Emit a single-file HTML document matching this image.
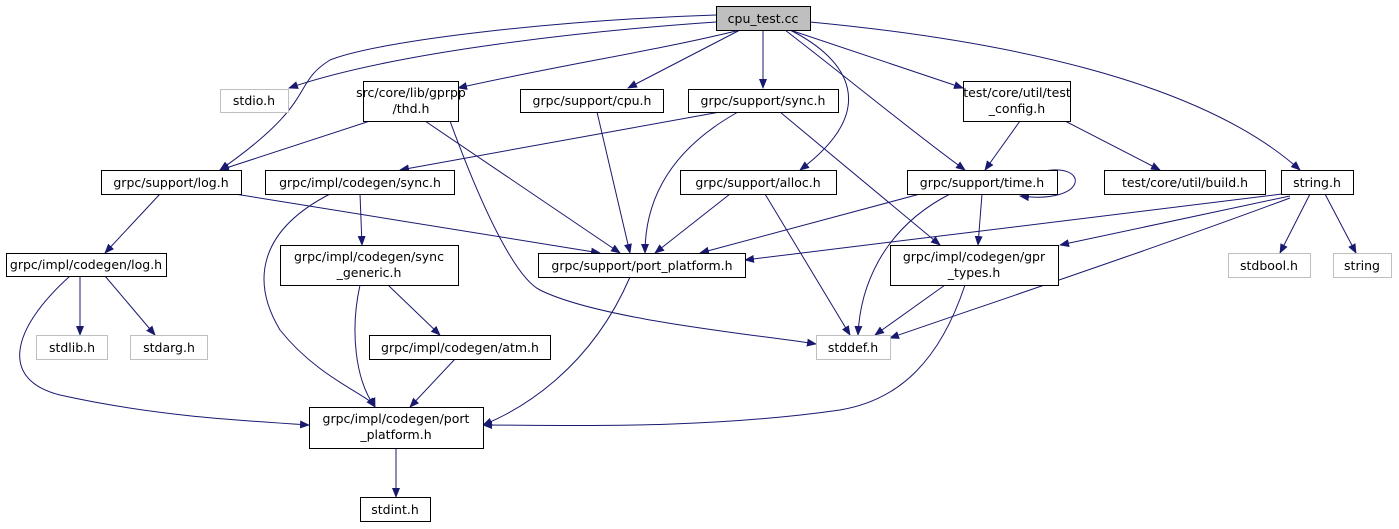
<!DOCTYPE html>
<html><head><meta charset="utf-8"><style>
html,body{margin:0;padding:0;background:#fff;}
svg{display:block;}
text{font-family:"DejaVu Sans","Liberation Sans",sans-serif;font-size:12.5px;fill:#000;text-anchor:middle;}
.n{fill:#fff;stroke:#000;stroke-width:1;}
.g{fill:#fff;stroke:#bfbfbf;stroke-width:1;}
.e{fill:none;stroke:#191970;stroke-width:1;marker-end:url(#a);}
</style></head><body>
<svg width="1399" height="529" viewBox="0 0 1399 529">
<defs><marker id="a" markerWidth="10" markerHeight="8" refX="9" refY="4" orient="auto" markerUnits="userSpaceOnUse"><path d="M0,0 L10,4 L0,8 z" fill="#191970"/></marker></defs>
<path class="e" d="M716,22 C600,30 400,50 289,88"/>
<path class="e" d="M740,30 C660,50 560,65 458,88"/>
<path class="e" d="M740,30 L628,88"/>
<path class="e" d="M763,30 L763,88"/>
<path class="e" d="M790,30 L963,88"/>
<path class="e" d="M716,15 C560,20 380,40 330,60 C290,85 320,100 220,170"/>
<path class="e" d="M790,30 C850,60 880,110 800,170"/>
<path class="e" d="M785,30 C850,80 910,130 965,170"/>
<path class="e" d="M810,22 C1000,40 1200,80 1300,170"/>
<path class="e" d="M370,121 L220,170"/>
<path class="e" d="M425,121 L620,253"/>
<path class="e" d="M450,121 C490,230 520,280 540,290 C600,320 760,335 816,344"/>
<path class="e" d="M597,112 L630,253"/>
<path class="e" d="M720,112 L400,170"/>
<path class="e" d="M738,112 C670,150 645,200 645,253"/>
<path class="e" d="M780,112 L940,245"/>
<path class="e" d="M1020,121 L985,170"/>
<path class="e" d="M1065,121 L1160,170"/>
<path class="e" d="M160,194 L105,253"/>
<path class="e" d="M235,194 L600,253"/>
<path class="e" d="M330,194 C260,230 250,280 280,330 C320,380 370,395 375,407"/>
<path class="e" d="M360,194 L362,245"/>
<path class="e" d="M730,194 L655,253"/>
<path class="e" d="M765,194 L850,335"/>
<path class="e" d="M1040,172 C1090,160 1090,205 1020,196"/>
<path class="e" d="M920,194 L700,253"/>
<path class="e" d="M982,194 L978,245"/>
<path class="e" d="M950,194 C880,230 860,290 858,335"/>
<path class="e" d="M1282,194 L745,260"/>
<path class="e" d="M1290,196 L1060,245"/>
<path class="e" d="M1290,198 C1150,250 1000,300 890,338"/>
<path class="e" d="M1310,194 L1280,253"/>
<path class="e" d="M1325,194 L1356,253"/>
<path class="e" d="M80,276 L80,335"/>
<path class="e" d="M105,276 L155,335"/>
<path class="e" d="M70,276 C10,330 0,380 60,395 C150,415 230,420 309,425"/>
<path class="e" d="M388,285 L440,335"/>
<path class="e" d="M360,285 C350,330 355,380 375,407"/>
<path class="e" d="M630,277 C590,370 520,410 483,425"/>
<path class="e" d="M945,285 L875,335"/>
<path class="e" d="M965,285 C940,360 900,400 840,410 C700,430 560,425 483,425"/>
<path class="e" d="M455,359 L410,407"/>
<path class="e" d="M396,448 L396,497"/>
<rect x="716.5" y="6.5" width="94" height="24" fill="#bfbfbf" stroke="#000"/><text x="763" y="23">cpu_test.cc</text>
<rect class="g" x="220.5" y="89.5" width="68" height="23"/><text x="254" y="105">stdio.h</text>
<rect class="n" x="363.5" y="81.5" width="95" height="40"/><text x="411" y="97">src/core/lib/gprpp</text><text x="411" y="113">/thd.h</text>
<rect class="n" x="520.5" y="89.5" width="143" height="23"/><text x="592" y="105">grpc/support/cpu.h</text>
<rect class="n" x="688.5" y="89.5" width="150" height="23"/><text x="763" y="105">grpc/support/sync.h</text>
<rect class="n" x="963.5" y="81.5" width="107" height="40"/><text x="1017" y="97">test/core/util/test</text><text x="1017" y="113">_config.h</text>
<rect class="n" x="101.5" y="170.5" width="140" height="24"/><text x="171" y="187">grpc/support/log.h</text>
<rect class="n" x="265.5" y="170.5" width="189" height="24"/><text x="360" y="187">grpc/impl/codegen/sync.h</text>
<rect class="n" x="680.5" y="170.5" width="156" height="24"/><text x="758" y="187">grpc/support/alloc.h</text>
<rect class="n" x="907.5" y="170.5" width="150" height="24"/><text x="982" y="187">grpc/support/time.h</text>
<rect class="n" x="1104.5" y="170.5" width="161" height="24"/><text x="1185" y="187">test/core/util/build.h</text>
<rect class="n" x="1281.5" y="170.5" width="72" height="24"/><text x="1317" y="187">string.h</text>
<rect class="n" x="6.5" y="253.5" width="160" height="23"/><text x="86" y="269">grpc/impl/codegen/log.h</text>
<rect class="n" x="280.5" y="245.5" width="178" height="40"/><text x="369" y="261">grpc/impl/codegen/sync</text><text x="369" y="277">_generic.h</text>
<rect class="n" x="538.5" y="253.5" width="207" height="24"/><text x="642" y="270">grpc/support/port_platform.h</text>
<rect class="n" x="890.5" y="245.5" width="168" height="40"/><text x="974" y="261">grpc/impl/codegen/gpr</text><text x="974" y="277">_types.h</text>
<rect class="g" x="1228.5" y="253.5" width="82" height="24"/><text x="1269" y="270">stdbool.h</text>
<rect class="g" x="1333.5" y="253.5" width="58" height="24"/><text x="1362" y="270">string</text>
<rect class="g" x="36.5" y="335.5" width="71" height="24"/><text x="72" y="352">stdlib.h</text>
<rect class="g" x="130.5" y="335.5" width="77" height="24"/><text x="169" y="352">stdarg.h</text>
<rect class="n" x="369.5" y="335.5" width="181" height="24"/><text x="460" y="352">grpc/impl/codegen/atm.h</text>
<rect class="g" x="816.5" y="335.5" width="74" height="24"/><text x="853" y="352">stddef.h</text>
<rect class="n" x="309.5" y="407.5" width="174" height="41"/><text x="396" y="423">grpc/impl/codegen/port</text><text x="396" y="439">_platform.h</text>
<rect class="n" x="360.5" y="497.5" width="70" height="24"/><text x="395" y="514">stdint.h</text>
</svg>
</body></html>
